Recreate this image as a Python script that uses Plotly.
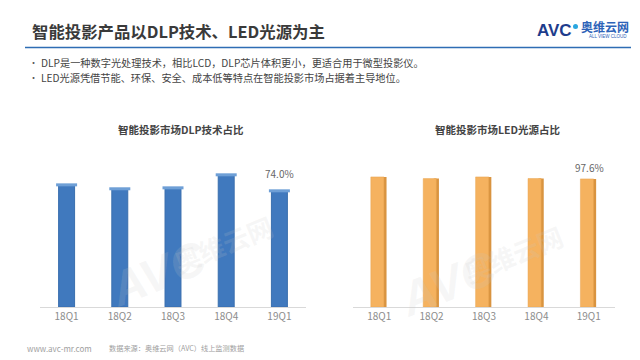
import plotly.graph_objects as go

quarters = ["18Q1", "18Q2", "18Q3", "18Q4", "19Q1"]
dlp_share = [77.8, 75.3, 75.9, 84.2, 74.0]
led_share = [99.1, 97.8, 99.1, 97.9, 97.6]

main_title = "智能投影产品以DLP技术、LED光源为主"
bullets = [
    "DLP是一种数字光处理技术，相比LCD，DLP芯片体积更小，更适合用于微型投影仪。",
    "LED光源凭借节能、环保、安全、成本低等特点在智能投影市场占据着主导地位。",
]
left_title = "智能投影市场DLP技术占比"
right_title = "智能投影市场LED光源占比"
footer_url = "www.avc-mr.com"
footer_src = "数据来源：奥维云网（AVC）线上监测数据"

W, H = 640, 360
FONT = "Noto Sans CJK SC, Noto Sans, sans-serif"

def px(x):
    return x / W

def py(y):
    return 1 - y / H

fig = go.Figure()

# Left: DLP cylinders
fig.add_trace(go.Bar(
    x=quarters, y=dlp_share, xaxis="x", yaxis="y",
    marker=dict(color="#4079BE", line=dict(color="#3A6FAE", width=1)),
    width=0.3, showlegend=False, hoverinfo="x+y",
))
fig.add_trace(go.Scatter(
    x=quarters, y=dlp_share, xaxis="x", yaxis="y", mode="markers",
    marker=dict(symbol="line-ew", size=15, line=dict(color="#6E9FD6", width=3)),
    showlegend=False, hoverinfo="skip",
))

# Right: LED 3D bars (side face then front face)
fig.add_trace(go.Bar(
    x=quarters, y=led_share, xaxis="x2", yaxis="y2",
    marker=dict(color="#D99440", line=dict(width=0)),
    width=0.1, offset=0.04, showlegend=False, hoverinfo="skip",
))
fig.add_trace(go.Bar(
    x=quarters, y=led_share, xaxis="x2", yaxis="y2",
    marker=dict(color="#F5B25F", line=dict(color="#E8A451", width=0.5)),
    width=0.25, offset=-0.16, showlegend=False, hoverinfo="x+y",
))

ydom = [py(299), py(142)]
axis_common = dict(
    showgrid=False, zeroline=False, showline=True, linecolor="#D9D9D9", linewidth=1,
    ticks="", tickfont=dict(family=FONT, size=10, color="#8C8C8C"),
)
fig.update_layout(
    width=W, height=H,
    margin=dict(l=0, r=0, t=0, b=0),
    paper_bgcolor="white", plot_bgcolor="rgba(0,0,0,0)",
    barmode="overlay",
    xaxis=dict(domain=[px(32), px(298)], anchor="y", **axis_common),
    yaxis=dict(domain=ydom, range=[0, 100], visible=False, anchor="x"),
    xaxis2=dict(domain=[px(345), px(607)], anchor="y2", **axis_common),
    yaxis2=dict(domain=ydom, range=[0, 119.6], visible=False, anchor="x2"),
    font=dict(family=FONT),
)

ann = []
# Faint watermarks (drawn first)
for (wx, wy) in [(150, 265), (440, 275)]:
    ann.append(dict(x=px(wx), y=py(wy), xref="paper", yref="paper", xanchor="center", yanchor="middle",
                    text="<b><i>AVC</i></b>", textangle=-22, showarrow=False,
                    font=dict(family="Liberation Sans, sans-serif", size=48, color="rgba(200,200,200,0.16)")))
    ann.append(dict(x=px(wx + 65), y=py(wy - 30), xref="paper", yref="paper", xanchor="center", yanchor="middle",
                    text="<b>奥维云网</b>", textangle=-22, showarrow=False,
                    font=dict(family=FONT, size=26, color="rgba(200,200,200,0.16)")))
# Header
ann.append(dict(x=px(22), y=py(23), xref="paper", yref="paper", xanchor="left", yanchor="middle",
                text="<b>" + main_title + "</b>", showarrow=False,
                font=dict(family=FONT, size=16.4, color="#3A3A3A")))
# Logo
ann.append(dict(x=px(527), y=py(22), xref="paper", yref="paper", xanchor="left", yanchor="middle",
                text="<b>AVC</b>", showarrow=False,
                font=dict(family="Liberation Sans, sans-serif", size=17, color="#1E3C8C")))
ann.append(dict(x=px(572), y=py(18), xref="paper", yref="paper", xanchor="left", yanchor="middle",
                text="<b>奥维云网</b>", showarrow=False, borderpad=0,
                font=dict(family=FONT, size=12, color="#2D63B8")))
ann.append(dict(x=px(580), y=py(28.5), xref="paper", yref="paper", xanchor="left", yanchor="middle",
                text="ALL VIEW CLOUD", showarrow=False, borderpad=0,
                font=dict(family="Liberation Sans, sans-serif", size=4.5, color="#2D63B8")))
# Bullets
for i, b in enumerate(bullets):
    yy = 54.5 + i * 14.5
    ann.append(dict(x=px(20), y=py(yy), xref="paper", yref="paper", xanchor="left", yanchor="middle",
                    text="•", showarrow=False, borderpad=0,
                    font=dict(family=FONT, size=9, color="#555555")))
    ann.append(dict(x=px(32), y=py(yy), xref="paper", yref="paper", xanchor="left", yanchor="middle",
                    text=b, showarrow=False, borderpad=0,
                    font=dict(family=FONT, size=10.2, color="#444444")))
# Chart titles
ann.append(dict(x=px(173), y=py(121), xref="paper", yref="paper", xanchor="center", yanchor="middle",
                text="<b>" + left_title + "</b>", showarrow=False,
                font=dict(family=FONT, size=10.5, color="#444444")))
ann.append(dict(x=px(490), y=py(121), xref="paper", yref="paper", xanchor="center", yanchor="middle",
                text="<b>" + right_title + "</b>", showarrow=False,
                font=dict(family=FONT, size=10.5, color="#444444")))
# Value labels on last bars
ann.append(dict(x=quarters[-1], y=dlp_share[-1], xref="x", yref="y", yshift=17, xanchor="center",
                yanchor="middle", text=f"{dlp_share[-1]:.1f}%", showarrow=False,
                font=dict(family=FONT, size=10, color="#666666")))
ann.append(dict(x=quarters[-1], y=led_share[-1], xref="x2", yref="y2", yshift=11, xanchor="center",
                yanchor="middle", text=f"{led_share[-1]:.1f}%", xshift=1, showarrow=False,
                font=dict(family=FONT, size=10, color="#666666")))
# Footer
ann.append(dict(x=px(17), y=py(340), xref="paper", yref="paper", xanchor="left", yanchor="middle",
                text=footer_url, showarrow=False, font=dict(family=FONT, size=8, color="#A0A0A0")))
ann.append(dict(x=px(99), y=py(340), xref="paper", yref="paper", xanchor="left", yanchor="middle",
                text=footer_src, showarrow=False, font=dict(family=FONT, size=7.2, color="#A0A0A0")))
fig.update_layout(annotations=ann)

fig.add_shape(type="line", xref="paper", yref="paper", x0=px(17), x1=px(623), y0=py(39.5), y1=py(39.5),
              line=dict(color="#2E6DB4", width=1.5))
fig.add_shape(type="circle", xref="paper", yref="paper", x0=px(565), x1=px(570), y0=py(21), y1=py(16),
              fillcolor="#2AA7E0", line=dict(width=0))

fig.write_html("out.html")
